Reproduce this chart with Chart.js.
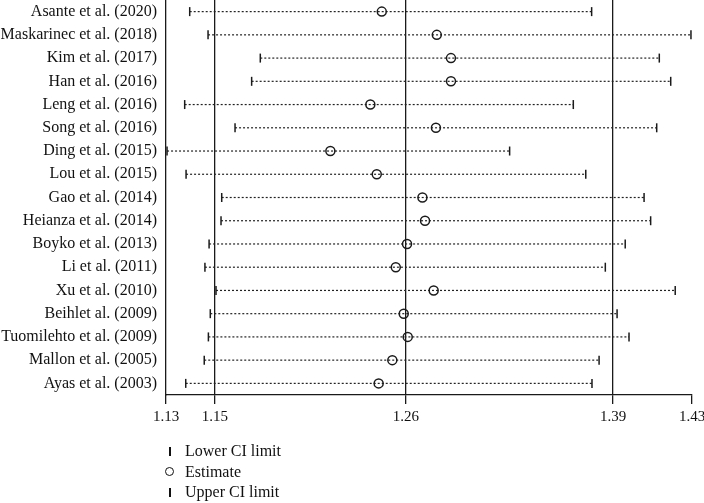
<!DOCTYPE html>
<html>
<head>
<meta charset="utf-8">
<script src="https://cdn.jsdelivr.net/npm/chart.js@4.4.1/dist/chart.umd.min.js"></script>
<style>
    html, body { margin: 0; padding: 0; background: #fff; }
    .wrap { position: relative; width: 704px; height: 503px; }
    .legend { position: absolute; left: 164px; top: 441px; font-family: 'Liberation Serif', serif; font-size: 16px; color: #111; }
    .legend div { height: 20.5px; line-height: 20px; display: flex; align-items: center; }
    .sym { width: 21px; display: inline-block; position: relative; height: 20px; }
    .bar { position: absolute; left: 5px; top: 6px; width: 1.5px; height: 9px; background: #111; }
    .ring { position: absolute; left: 1px; top: 5px; width: 7px; height: 7px; border: 1.5px solid #111; border-radius: 50%; }
</style>
</head>
<body>
<div class="wrap">
    <canvas id="forest" width="704" height="503"></canvas>
    <div class="legend">
        <div><span class="sym"><span class="bar"></span></span>Lower CI limit</div>
        <div><span class="sym"><span class="ring"></span></span>Estimate</div>
        <div><span class="sym"><span class="bar"></span></span>Upper CI limit</div>
    </div>
</div>
<script>
const studies = [
    'Asante et al. (2020)', 'Maskarinec et al. (2018)', 'Kim et al. (2017)', 'Han et al. (2016)',
    'Leng et al. (2016)', 'Song et al. (2016)', 'Ding et al. (2015)', 'Lou et al. (2015)',
    'Gao et al. (2014)', 'Heianza et al. (2014)', 'Boyko et al. (2013)', 'Li et al. (2011)',
    'Xu et al. (2010)', 'Beihlet al. (2009)', 'Tuomilehto et al. (2009)', 'Mallon et al. (2005)',
    'Ayas et al. (2003)'
];
const lowerCI = [1.1407, 1.1513, 1.1815, 1.1765, 1.1378, 1.1669, 1.1276, 1.1386, 1.1592,
    1.1588, 1.1519, 1.1495, 1.1559, 1.1526, 1.1515, 1.1491, 1.1384];
const estimate = [1.2517, 1.2835, 1.2917, 1.2917, 1.2451, 1.2830, 1.2220, 1.2488, 1.2752,
    1.2767, 1.2663, 1.2598, 1.2817, 1.2644, 1.2667, 1.2578, 1.2499];
const upperCI = [1.3730, 1.4304, 1.4121, 1.4187, 1.3624, 1.4106, 1.3256, 1.3696, 1.4033,
    1.4071, 1.3924, 1.3809, 1.4213, 1.3877, 1.3946, 1.3773, 1.3732];

// axis ticks: positions and the printed (rounded) labels
const tickValues = [1.127, 1.1553, 1.2657, 1.3854, 1.431];
const tickLabels = ['1.13', '1.15', '1.26', '1.39', '1.43'];
const refLineIdx = [1, 2, 3];

const ink = '#1a1a1a';
const serif = "'Liberation Serif', serif";

const ciLines = studies.map((s, i) => ({
    data: [{ x: lowerCI[i], y: s }, { x: upperCI[i], y: s }],
    showLine: true,
    borderColor: '#222',
    borderWidth: 1.2,
    borderDash: [2, 2],
    pointRadius: 0
}));

const markStyle = {
    pointStyle: 'line',
    rotation: 90,
    radius: 4.5,
    borderColor: ink,
    borderWidth: 1.5
};

new Chart(document.getElementById('forest'), {
    type: 'scatter',
    data: {
        datasets: [
            Object.assign({ label: 'Lower CI limit', data: studies.map((s, i) => ({ x: lowerCI[i], y: s })) }, markStyle),
            Object.assign({ label: 'Upper CI limit', data: studies.map((s, i) => ({ x: upperCI[i], y: s })) }, markStyle),
            {
                label: 'Estimate',
                data: studies.map((s, i) => ({ x: estimate[i], y: s })),
                pointStyle: 'circle',
                radius: 4.5,
                borderColor: ink,
                borderWidth: 1.5,
                backgroundColor: 'rgba(0,0,0,0)'
            },
            ...ciLines
        ]
    },
    options: {
        responsive: false,
        animation: false,
        layout: { autoPadding: false, padding: { top: 0, right: 12, bottom: 75, left: 0 } },
        plugins: { legend: { display: false }, tooltip: { enabled: false } },
        scales: {
            x: {
                type: 'linear',
                min: tickValues[0],
                max: tickValues[tickValues.length - 1],
                afterBuildTicks: axis => { axis.ticks = tickValues.map(v => ({ value: v })); },
                afterFit: axis => {
                    axis.height = 33;
                    axis.paddingLeft = 0;
                    axis.paddingRight = 0;
                },
                ticks: {
                    autoSkip: false,
                    maxRotation: 0,
                    padding: 4,
                    color: '#111',
                    font: { family: serif, size: 15 },
                    callback: (v, i) => tickLabels[i]
                },
                grid: {
                    color: ctx => refLineIdx.includes(ctx.index) ? ink : 'rgba(0,0,0,0)',
                    lineWidth: 1.3,
                    tickColor: ink,
                    tickLength: 9
                },
                border: { color: ink, width: 1.3 }
            },
            y: {
                type: 'category',
                labels: studies,
                offset: true,
                afterFit: axis => {
                    axis.width = 166;
                    axis.paddingTop = 0;
                    axis.paddingBottom = 0;
                },
                ticks: {
                    padding: 9,
                    color: '#111',
                    font: { family: serif, size: 16 }
                },
                grid: { display: false, drawTicks: false },
                border: { color: ink, width: 1.3 }
            }
        }
    }
});
</script>
</body>
</html>
